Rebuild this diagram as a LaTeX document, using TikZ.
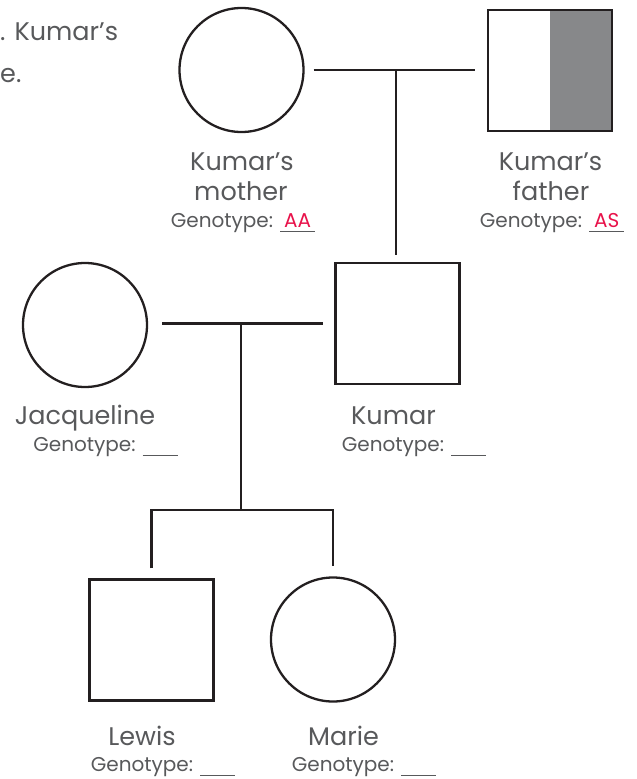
\documentclass[tikz,border=0pt]{standalone}
\usepackage{fontspec}
\setmainfont{Poppins}
\usetikzlibrary{calc}
\definecolor{txt}{HTML}{58595B}
\definecolor{lnc}{HTML}{231F20}
\definecolor{shadec}{HTML}{87888A}
\definecolor{gred}{HTML}{E8124A}
\newcommand\gblank[1]{\rlap{\rule[-5pt]{35pt}{0.9pt}}\makebox[35pt]{\color{gred}#1}}
\begin{document}
\begin{tikzpicture}[x=1pt,y=-1pt,
  female/.style={circle, draw=lnc, line width=2.3pt, minimum size=124pt, inner sep=0pt},
  male/.style={rectangle, draw=lnc, line width=2.3pt, minimum width=124pt, minimum height=121pt, inner sep=0pt},
  conn/.style={draw=lnc, line width=2.3pt},
  pname/.style={anchor=base, text=txt, font=\fontsize{25.5}{30}\selectfont, inner sep=0pt},
  pgeno/.style={anchor=base, text=txt, font=\fontsize{20}{24}\selectfont, inner sep=0pt}]
\useasboundingbox (0,0) rectangle (637,779);

% intro text (cropped)
\node[pname, anchor=base west] (intro1) at (0,40) {. Kumar’s};
\node[pname, anchor=base west] (intro2) at (0,82) {e.};

% shapes
\node[female] (mother) at (241.5,70) {};
\node[male, path picture={\fill[shadec] (path picture bounding box.north) rectangle (path picture bounding box.south east);}] (father) at (550,70.5) {};
\node[female] (jacq) at (85,325) {};
\node[male] (kumar) at (397.5,323.5) {};
\node[male] (lewis) at (151.5,640) {};
\node[female] (marie) at (333,639.5) {};

% connectors
\coordinate (u1) at ($(mother.east)!0.5!(father.west)$);
\draw[conn] ([xshift=9pt]mother.east) -- ([xshift=-12pt]father.west |- mother.east);
\draw[conn] (u1 |- mother.east) -- ([yshift=7pt]u1 |- kumar.north);
\coordinate (u2) at ($(jacq.east)!0.5!(kumar.west)$);
\draw[conn] ([xshift=14pt]jacq.east |- kumar.west) -- ([xshift=-11pt]kumar.west);
\coordinate (c) at (u2 |- 0,510);
\draw[conn] (u2 |- kumar.west) -- (c);
\draw[conn] ([yshift=10pt]lewis.north) |- (c) -| ([yshift=10pt]marie.north);

% labels
\node[pname] (mn1) at (242,170) {Kumar’s};
\node[pname] (mn2) at (241,200) {mother};
\node[pgeno] (mg) at (243,227) {Genotype: \gblank{AA}};
\node[pname] (fn1) at (550.5,170) {Kumar’s};
\node[pname] (fn2) at (551,200) {father};
\node[pgeno] (fg) at (552,227) {Genotype: \gblank{AS}};
\node[pname] (jn) at (85,424) {Jacqueline};
\node[pgeno] (jg) at (105.5,451) {Genotype: \gblank{}};
\node[pname] (kn) at (393.5,424) {Kumar};
\node[pgeno] (kg) at (414,451) {Genotype: \gblank{}};
\node[pname] (ln) at (142,745) {Lewis};
\node[pgeno] (lg) at (163,771) {Genotype: \gblank{}};
\node[pname] (mrn) at (343.5,745) {Marie};
\node[pgeno] (mrg) at (364,771) {Genotype: \gblank{}};
\end{tikzpicture}
\end{document}
